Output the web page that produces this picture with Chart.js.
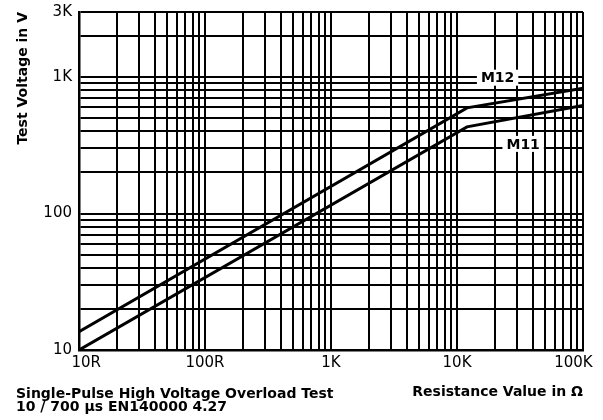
<!DOCTYPE html>
<html>
<head>
<meta charset="utf-8">
<script src="https://cdn.jsdelivr.net/npm/chart.js@4"></script>
<style>
  html, body { margin: 0; padding: 0; background: #fff; }
  .chart-box { width: 603px; height: 420px; position: relative; }
</style>
</head>
<body>
<div class="chart-box"><canvas class="js-chart"></canvas></div>
<script>
(function () {

  // resistance in ohms, voltage in volts
  const resistance = [10, 12000, 100000];
  const m12Volts = [13.6, 595, 830];
  const m11Volts = [10, 432, 620];

  const xGridValues = [
    10, 20, 30, 40, 50, 60, 70, 80, 90,
    100, 200, 300, 400, 500, 600, 700, 800, 900,
    1000, 2000, 3000, 4000, 5000, 6000, 7000, 8000, 9000,
    10000, 20000, 30000, 40000, 50000, 60000, 70000, 80000, 90000,
    100000
  ];
  const yGridValues = [
    10, 20, 30, 40, 50, 60, 70, 80, 90,
    100, 200, 300, 400, 500, 600, 700, 800, 900,
    1000, 2000, 3000
  ];

  const xLabelValues = [10, 100, 1000, 10000, 100000];
  const xLabelTexts = ['   10R', '100R', '1K', '10K', '100K    '];
  const yLabelValues = [10, 100, 1000, 3000];
  const yLabelTexts = ['10', '100', '1K', '3K'];

  const seriesNames = ['M12', 'M11'];
  // where the series names sit, in data units
  const nameAt = [
    { x: 21000, y: 990 },
    { x: 33500, y: 324 }
  ];

  const noteLines = [
    'Single-Pulse High Voltage Overload Test',
    '10 / 700 \u00b5s EN140000 4.27'
  ];

  Chart.defaults.font.family = "'DejaVu Sans', sans-serif";
  Chart.defaults.color = '#000';

  const toPoints = (ys) => resistance.map((r, i) => ({ x: r, y: ys[i] }));

  const notes = {
    id: 'notes',
    afterDatasetsDraw(chart) {
      const ctx = chart.ctx;
      const sx = chart.scales.x;
      const sy = chart.scales.y;
      ctx.save();
      ctx.font = "bold 14px 'DejaVu Sans'";
      ctx.textAlign = 'center';
      ctx.textBaseline = 'middle';
      seriesNames.forEach((name, i) => {
        const px = sx.getPixelForValue(nameAt[i].x);
        const py = sy.getPixelForValue(nameAt[i].y);
        const w = ctx.measureText(name).width + 8;
        ctx.fillStyle = '#fff';
        ctx.fillRect(px - w / 2, py - 8, w, 16);
        ctx.fillStyle = '#000';
        ctx.fillText(name, px, py + 1);
      });
      ctx.textAlign = 'left';
      ctx.textBaseline = 'alphabetic';
      ctx.fillText(noteLines[0], 16, 398);
      ctx.fillText(noteLines[1], 16, 411);
      ctx.restore();
    }
  };

  const gridStyle = {
    color: '#000',
    lineWidth: 2,
    drawTicks: false
  };

  const config = {
    type: 'line',
    data: {
      datasets: [
        {
          label: seriesNames[0],
          data: toPoints(m12Volts),
          borderColor: '#000',
          borderWidth: 3,
          pointRadius: 0,
          tension: 0
        },
        {
          label: seriesNames[1],
          data: toPoints(m11Volts),
          borderColor: '#000',
          borderWidth: 3,
          pointRadius: 0,
          tension: 0
        }
      ]
    },
    options: {
      responsive: true,
      maintainAspectRatio: false,
      animation: false,
      layout: {
        padding: { top: 12, right: 20, bottom: 0, left: 0 }
      },
      plugins: {
        legend: { display: false },
        tooltip: { enabled: false }
      },
      scales: {
        x: {
          type: 'logarithmic',
          min: 10,
          max: 100000,
          afterBuildTicks: (scale) => {
            scale.ticks = xGridValues.map(v => ({ value: v }));
          },
          afterFit: (scale) => {
            scale.height = 70;
            scale.paddingLeft = 0;
            scale.paddingRight = 0;
          },
          grid: gridStyle,
          border: { display: true, color: '#000', width: 2.5 },
          ticks: {
            autoSkip: false,
            maxRotation: 0,
            minRotation: 0,
            padding: 4,
            font: { size: 15 },
            callback: (value) => {
              const i = xLabelValues.indexOf(value);
              return i < 0 ? '' : xLabelTexts[i];
            }
          },
          title: {
            display: true,
            text: 'Resistance Value in \u03a9',
            align: 'end',
            font: { size: 14, weight: 'bold' },
            padding: { top: 0, bottom: 19 }
          }
        },
        y: {
          type: 'logarithmic',
          min: 10,
          max: 3000,
          afterBuildTicks: (scale) => {
            scale.ticks = yGridValues.map(v => ({ value: v }));
          },
          afterFit: (scale) => {
            scale.width = 79;
            scale.paddingTop = 0;
            scale.paddingBottom = 0;
          },
          grid: gridStyle,
          border: { display: true, color: '#000', width: 2.5 },
          ticks: {
            autoSkip: false,
            padding: 7,
            font: { size: 15 },
            callback: (value) => {
              const i = yLabelValues.indexOf(value);
              return i < 0 ? '' : yLabelTexts[i];
            }
          },
          title: {
            display: true,
            text: 'Test Voltage in V',
            align: 'end',
            font: { size: 14, weight: 'bold' },
            padding: { top: 15, bottom: 0 }
          }
        }
      }
    },
    plugins: [notes]
  };

  new Chart(document.querySelector('.js-chart'), config);

})();
</script>
</body>
</html>
